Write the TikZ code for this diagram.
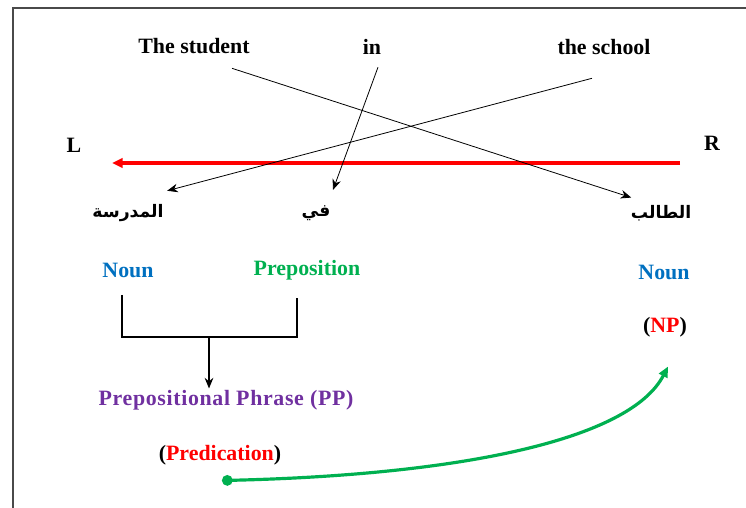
\documentclass[tikz,border=0pt]{standalone}
\usepackage{fontspec}
\setmainfont{Liberation Serif}
\newfontfamily\arabicfont[Script=Arabic]{DejaVu Sans}
\TeXXeTstate=1
\usetikzlibrary{arrows.meta,calc}

\definecolor{nounblue}{HTML}{0070C0}
\definecolor{prepgreen}{HTML}{00B050}
\definecolor{phrasepurple}{HTML}{7030A0}
\definecolor{framegray}{HTML}{4A4A4A}

\begin{document}
\begin{tikzpicture}[
    x=0.0265cm, y=-0.0265cm,
    word/.style={font=\fontsize{16.5}{19}\selectfont\bfseries, inner sep=1pt},
    arab/.style={font=\arabicfont\fontsize{13}{16}\selectfont\bfseries, inner sep=1pt},
    arrow/.style={-{Stealth[length=8pt, width=6.5pt]}, line width=0.6pt},
    bracket/.style={line width=1.2pt},
    dirarrow/.style={-{Triangle[length=8pt, width=7pt]}, red, line width=2.6pt},
    predarrow/.style={{Circle[length=8pt]}-{Triangle[length=8pt, width=7pt]}, prepgreen, line width=2.4pt}
]
    \useasboundingbox (0,0) rectangle (746,508);
    % frame, only top and left edges show
    \draw[framegray, line width=1.6pt] (13,508) |- (746,8);

    % english words
    \node[word] (student) at (194,46) {The student};
    \node[word] (in) at (372,47) {in};
    \node[word] (school) at (604,47) {the school};
    \node[word] (left) at (74,145) {L};
    \node[word] (right) at (712,143) {R};

    % arabic words
    \node[arab] (madrasa) at (128,213) {\beginR المدرسة\endR};
    \node[arab] (fi) at (316,213) {\beginR في\endR};
    \node[arab] (talib) at (661,213) {\beginR الطالب\endR};

    % categories
    \node[word, text=nounblue] (noun1) at (128,270) {Noun};
    \node[word, text=prepgreen] (prep) at (307,270) {Preposition};
    \node[word, text=nounblue] (noun2) at (664,272) {Noun};
    \node[word] (np) at (665,327) {(\textcolor{red}{NP})};
    \node[word, text=phrasepurple] (pp) at (226,400)
        {\addfontfeature{LetterSpace=3}Prepositional Phrase (PP)};
    \node[word] (pred) at (220,455) {(\textcolor{red}{Predication})};

    % reading direction
    \coordinate (rstart) at (680,163);
    \coordinate (lend) at (112,163);
    \draw[dirarrow] (rstart) -- (lend);

    % word alignment
    \draw[arrow] ($(student.south)+(38,13)$) -- ($(talib.north west)+(2,-6)$);
    \draw[arrow] ($(in.south)+(6,11)$) -- ($(fi.north)+(17,-14)$);
    \draw[arrow] ($(school.south)+(-12,22)$) -- ($(madrasa.north east)+(2,-12)$);

    % bracket into the phrase
    \coordinate (bl) at ($(noun1.south)+(-6,16)$);
    \coordinate (br) at ($(prep.south)+(-10,16)$);
    \coordinate (bm) at (209,337);
    \draw[bracket] (bl) |- (bm) -| (br);
    \draw[arrow, line width=1.2pt] (bm) -- (bm |- pp.north);

    % predication link
    \draw[predarrow] ($(pred.south)+(2,14)$)
        .. controls (460,475) and (630,440) .. ($(np.south)+(3,28)$);
\end{tikzpicture}
\end{document}
